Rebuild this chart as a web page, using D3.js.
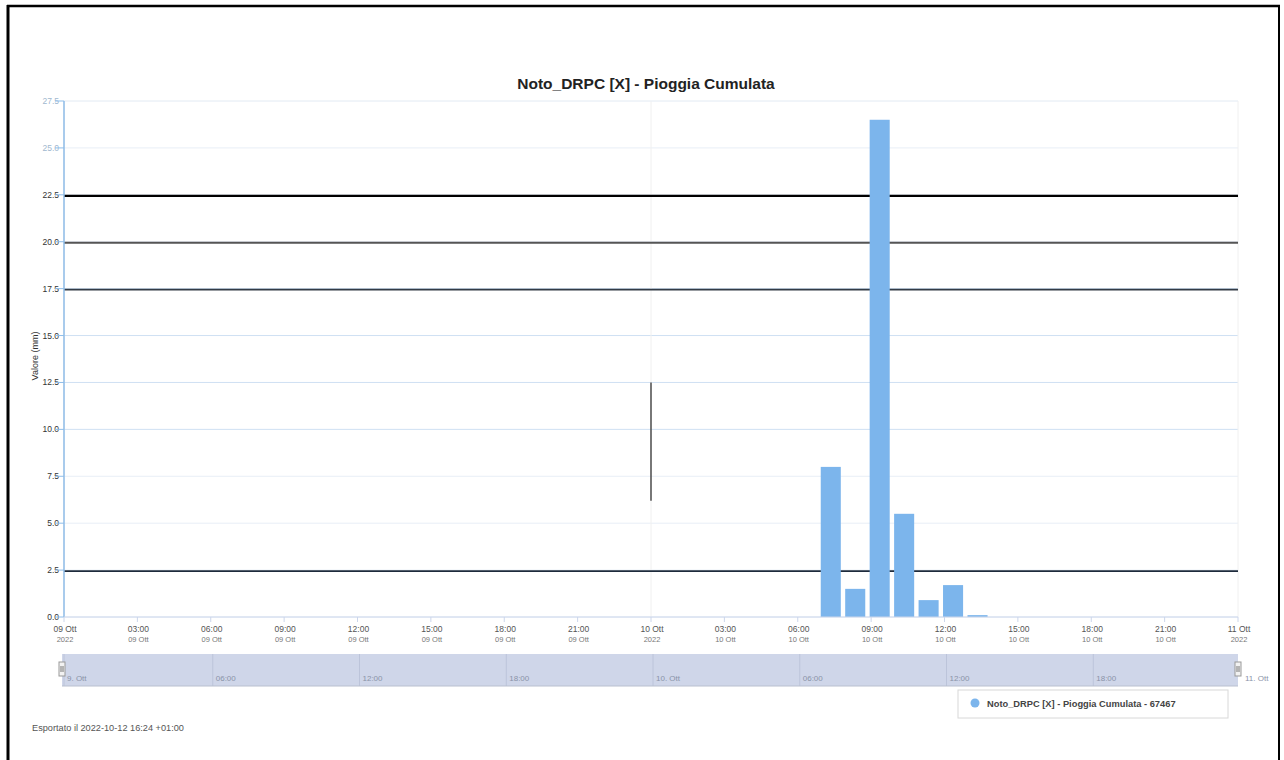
<!DOCTYPE html>
<html><head><meta charset="utf-8">
<script src="https://cdn.jsdelivr.net/npm/d3@7"></script>
<style>body{margin:0;background:#fff;}svg{display:block;font-family:"Liberation Sans",Arial,sans-serif;}</style>
</head><body>
<svg id="c" width="1284" height="760"></svg>
<script>
const title = "Noto_DRPC [X] - Pioggia Cumulata";
const seriesName = "Noto_DRPC [X] - Pioggia Cumulata - 67467";
const yTitle = "Valore (mm)";
const exported = "Esportato il 2022-10-12 16:24 +01:00";
const barTimes = ["2022-10-10T07:00","2022-10-10T08:00","2022-10-10T09:00","2022-10-10T10:00","2022-10-10T11:00","2022-10-10T12:00","2022-10-10T13:00"];
const barValues = [8.0, 1.5, 26.5, 5.5, 0.9, 1.7, 0.1];
const thresholds = [2.5, 17.5, 20.0, 22.5];
const thresholdColors = ["#1e2b3c", "#333b45", "#555555", "#000000"];
const yTicks = [0, 2.5, 5, 7.5, 10, 12.5, 15, 17.5, 20, 22.5, 25, 27.5];
const navLabels = ["9. Ott","06:00","12:00","18:00","10. Ott","06:00","12:00","18:00"];
const mesi = "Ott";

const parse = d3.timeParse("%Y-%m-%dT%H:%M");
const t0 = parse("2022-10-09T00:00"), t1 = parse("2022-10-11T00:00");
const svg = d3.select("#c");
const L = 64, R = 1238, T = 101, B = 617;
const x = d3.scaleTime().domain([t0, t1]).range([L, R]);
const y = d3.scaleLinear().domain([0, 27.5]).range([B, T]);

// frame
svg.append("line").attr("x1",8).attr("x2",8).attr("y1",5).attr("y2",760).attr("stroke","#000").attr("stroke-width",3);
svg.append("line").attr("x1",7).attr("x2",1280).attr("y1",6).attr("y2",6).attr("stroke","#000").attr("stroke-width",2.5);
svg.append("line").attr("x1",1279).attr("x2",1279).attr("y1",5).attr("y2",760).attr("stroke","#000").attr("stroke-width",2);

// title
svg.append("text").attr("x",646).attr("y",89).attr("text-anchor","middle").attr("font-size",15.5).attr("font-weight","bold").attr("fill","#222").text(title);

// gridlines
const g = svg.append("g");
g.selectAll(".gl").data(yTicks).enter().append("line")
  .attr("x1",L).attr("x2",R).attr("y1",d=>y(d)).attr("y2",d=>y(d))
  .attr("stroke",(d,i)=> i>=4 && i<=7 ? "#cfe0f3" : "#e8eef6").attr("stroke-width",1);
g.selectAll(".vg").data([t0, parse("2022-10-10T00:00"), t1]).enter().append("line")
  .attr("x1",d=>x(d)).attr("x2",d=>x(d)).attr("y1",T).attr("y2",B).attr("stroke","#f0f0f0");
svg.append("line").attr("x1",L).attr("x2",R).attr("y1",T).attr("y2",T).attr("stroke","#eef2f7");

// thresholds
g.selectAll(".th").data(thresholds).enter().append("line")
  .attr("x1",L).attr("x2",R).attr("y1",d=>y(d)+1).attr("y2",d=>y(d)+1)
  .attr("stroke",(d,i)=>thresholdColors[i]).attr("stroke-width",(d,i)=> i==3?2.2:1.8);

// artifact vertical line
svg.append("line").attr("x1",x(parse("2022-10-10T00:00"))).attr("x2",x(parse("2022-10-10T00:00")))
  .attr("y1",y(12.5)).attr("y2",y(6.2)).attr("stroke","#222").attr("stroke-width",1.2);

// bars
const bw = 0.82 * 3600e3;
svg.append("g").selectAll("rect").data(barTimes.map((t,i)=>({t:parse(t),v:barValues[i]}))).enter().append("rect")
  .attr("x",d=>x(new Date(d.t.getTime()-0.06*3600e3)))
  .attr("width",d=>x(new Date(d.t.getTime()+bw))-x(d.t))
  .attr("y",d=>y(d.v)).attr("height",d=>B-y(d.v)).attr("fill","#7cb5ec");

// y axis
svg.append("line").attr("x1",L).attr("x2",L).attr("y1",T).attr("y2",B).attr("stroke","#8fbde9").attr("stroke-width",1.5);
const ya = svg.append("g");
ya.selectAll("text").data(yTicks).enter().append("text")
  .attr("x",59).attr("y",d=>y(d)+3).attr("text-anchor","end").attr("font-size",8.5)
  .attr("fill",d=>d>=25?"#9fb8cf":"#333").text(d=>d.toFixed(1));
ya.selectAll("line").data(yTicks).enter().append("line")
  .attr("x1",55).attr("x2",L).attr("y1",d=>y(d)).attr("y2",d=>y(d)).attr("stroke","#8fbde9");
svg.append("text").attr("transform","translate(38,356) rotate(-90)").attr("text-anchor","middle")
  .attr("font-size",9).attr("fill","#333").text(yTitle);

// x axis
svg.append("line").attr("x1",L).attr("x2",R).attr("y1",B).attr("y2",B).attr("stroke","#ccd6eb");
const xt = x.ticks(d3.timeHour.every(3));
const xa = svg.append("g");
xa.selectAll("line").data(xt).enter().append("line").attr("x1",d=>x(d)).attr("x2",d=>x(d)).attr("y1",B).attr("y2",B+5).attr("stroke","#ccd6eb");
const fmtDay = d3.timeFormat("%d");
xa.selectAll(".l1").data(xt).enter().append("text").attr("x",d=>x(d)+1).attr("y",632).attr("text-anchor","middle")
  .attr("font-size",8.5).attr("fill","#555").text(d=> d.getHours()===0 ? fmtDay(d)+" "+mesi : d3.timeFormat("%H:%M")(d));
xa.selectAll(".l2").data(xt).enter().append("text").attr("x",d=>x(d)+1).attr("y",642).attr("text-anchor","middle")
  .attr("font-size",7.5).attr("fill","#777").text(d=> d.getHours()===0 ? "2022" : fmtDay(d)+" "+mesi);

// navigator
const nav = svg.append("g");
nav.append("rect").attr("x",L-2).attr("y",654).attr("width",R-L+2).attr("height",32).attr("fill","#cfd6e9");
const nt = d3.timeHour.every(6).range(t0, t1);
nav.selectAll("line").data(nt).enter().append("line").attr("x1",d=>x(d)+(d===nt[0]?0:2)).attr("x2",d=>x(d)+(d===nt[0]?0:2)).attr("y1",654).attr("y2",686).attr("stroke","#bcc4da");
nav.selectAll("text").data(nt).enter().append("text").attr("x",(d,i)=>x(d)+(i===0?3:5)).attr("y",681)
  .attr("font-size",8).attr("fill","#8a93a8").text((d,i)=>navLabels[i]);
nav.append("text").attr("x",R+7).attr("y",681).attr("font-size",8).attr("fill","#8a93a8").text("11. Ott");
nav.append("line").attr("x1",L-2).attr("x2",R).attr("y1",686).attr("y2",686).attr("stroke","#b9c0cf");
[L-2, R].forEach(px=>{
  nav.append("rect").attr("x",px-3).attr("y",662).attr("width",6).attr("height",14).attr("fill","#f2f2f2").attr("stroke","#999");
  nav.append("line").attr("x1",px-1).attr("x2",px-1).attr("y1",666).attr("y2",672).attr("stroke","#777");
  nav.append("line").attr("x1",px+1).attr("x2",px+1).attr("y1",666).attr("y2",672).attr("stroke","#777");
});

// legend
const lg = svg.append("g");
lg.append("rect").attr("x",958).attr("y",690).attr("width",270).attr("height",28).attr("fill","#fff").attr("stroke","#d8d8d8");
lg.append("circle").attr("cx",975).attr("cy",703).attr("r",4.5).attr("fill","#7cb5ec");
lg.append("text").attr("x",987).attr("y",706.5).attr("font-size",9.3).attr("font-weight","bold").attr("fill","#444").text(seriesName);

// footer
svg.append("text").attr("x",32).attr("y",731).attr("font-size",9.2).attr("fill","#555").text(exported);
</script>
</body></html>
